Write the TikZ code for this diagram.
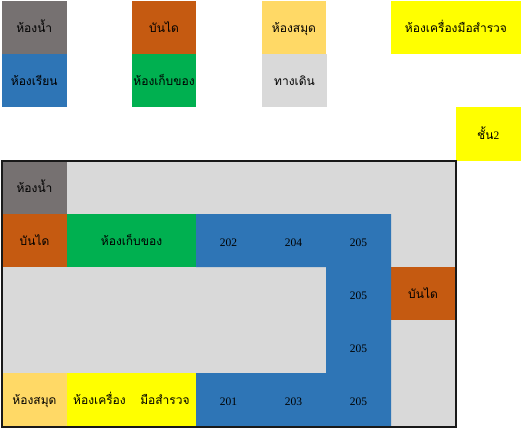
\documentclass[tikz,border=0pt]{standalone}
\usepackage{fontspec}
\setmainfont{Liberation Serif}
\newfontfamily\thaifont[Script=Thai]{Loma}
\definecolor{cgrey}{HTML}{767171}
\definecolor{corange}{HTML}{C55A11}
\definecolor{cblue}{HTML}{2E75B6}
\definecolor{cgreen}{HTML}{00B050}
\definecolor{cbook}{HTML}{FFD966}
\definecolor{cwalk}{HTML}{D9D9D9}
\definecolor{cyel}{HTML}{FFFF00}
\tikzset{
  room/.style={inner sep=0pt,outer sep=0pt,anchor=north west,text height=11pt,text depth=1pt,font=\thaifont\fontsize{12}{14}\selectfont},
  num/.style={inner sep=0pt,font=\fontsize{11.5}{13}\selectfont},
  label/.style={inner sep=0pt,text height=11pt,text depth=1pt,font=\thaifont\fontsize{12}{14}\selectfont},
  frameline/.style={draw=black!90,line width=2pt},
}
% name, x0, y0, width, height, colour, text
\newcommand{\roombox}[7]{\node[room,fill=#6,minimum width=#4pt,minimum height=#5pt] (#1) at (#2,#3) {#7};}
\begin{document}
\begin{tikzpicture}[x=1pt,y=-1pt]
\useasboundingbox (0,0) rectangle (523,429);
% legend
\roombox{lbath}{2}{1}{64.5}{53}{cgrey}{ห้องน้ำ}
\roombox{lclass}{2}{54}{64.5}{53}{cblue}{ห้องเรียน}
\roombox{lstair}{132}{1}{64}{53}{corange}{บันได}
\roombox{lstore}{132}{54}{64}{53}{cgreen}{ห้องเก็บของ}
\roombox{llib}{262}{1}{64}{53}{cbook}{ห้องสมุด}
\roombox{lwalk}{262}{54}{65}{53}{cwalk}{ทางเดิน}
\roombox{lsurvey}{391}{1}{130}{53}{cyel}{ห้องเครื่องมือสำรวจ}
\roombox{floor}{456}{107}{64.5}{54}{cyel}{ชั้น{\rmfamily\fontsize{11.5}{13}\selectfont 2}}
% plan
\roombox{walk}{2}{161}{453}{265}{cwalk}{}
\roombox{bath}{2}{161}{65}{53}{cgrey}{ห้องน้ำ}
\roombox{stairA}{2}{214}{65}{53}{corange}{บันได}
\roombox{store}{67}{214}{129}{53}{cgreen}{ห้องเก็บของ}
\roombox{lib}{2}{373}{65}{53}{cbook}{ห้องสมุด}
\roombox{survey}{67}{373}{129}{53}{cyel}{}
\node[label] (surveyA) at (99.5,399.5) {ห้องเครื่อง};
\node[label] (surveyB) at (165,399.5) {มือสำรวจ};
\roombox{stairB}{391}{267}{64}{53}{corange}{บันได}
\fill[cblue] (196,214) -- (391,214) -- (391,426) -- (196,426) -- (196,373) -- (326,373) -- (326,267) -- (196,267) -- cycle;
\node[num] (r202) at (228.5,242.5) {202};
\node[num] (r204) at (293.5,242.5) {204};
\node[num] (r205a) at (358.5,242.5) {205};
\node[num] (r205b) at (358.5,295.5) {205};
\node[num] (r205c) at (358.5,348.5) {205};
\node[num] (r205d) at (358.5,401.5) {205};
\node[num] (r201) at (228.5,401.5) {201};
\node[num] (r203) at (293.5,401.5) {203};
\draw[frameline] (1.5,160.5) rectangle (456,427);
\end{tikzpicture}
\end{document}
